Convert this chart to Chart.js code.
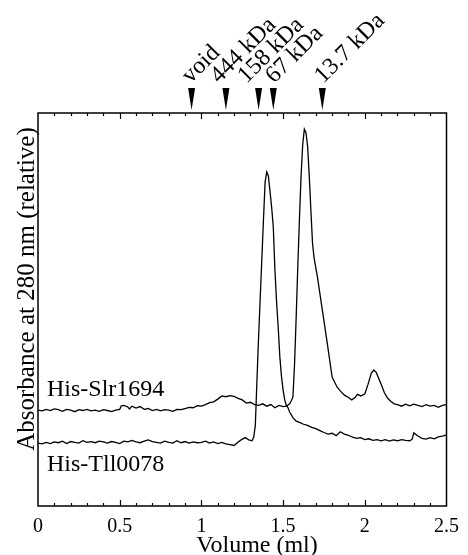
<!DOCTYPE html>
<html>
<head>
<meta charset="utf-8">
<script src="https://cdn.jsdelivr.net/npm/chart.js@4"></script>
<style>
  body { margin: 0; background: #fff; }
  canvas { display: block; }
</style>
</head>
<body>
<canvas id="grafico" width="468" height="555"></canvas>
<script>
// His-Slr1694 trace (volume in ml, relative absorbance)
const slrVol = [0, 0.025, 0.05, 0.075, 0.1, 0.125, 0.15, 0.175, 0.2, 0.225, 0.25, 0.275, 0.3, 0.325, 0.35, 0.375, 0.4, 0.425, 0.45, 0.475,
  0.5, 0.51, 0.525, 0.55, 0.56, 0.575, 0.6, 0.625, 0.65, 0.675, 0.7, 0.725, 0.75, 0.775, 0.8, 0.825, 0.85, 0.875, 0.9, 0.925,
  0.95, 0.975, 1.0, 1.025, 1.05, 1.075, 1.1, 1.125, 1.15, 1.175, 1.2, 1.225, 1.25, 1.275, 1.3, 1.325, 1.35, 1.375, 1.4, 1.425,
  1.45, 1.475, 1.5, 1.52, 1.54, 1.55, 1.56, 1.57, 1.58, 1.59, 1.6, 1.61, 1.62, 1.63, 1.64, 1.65, 1.66, 1.67, 1.68, 1.69,
  1.71, 1.74, 1.77, 1.8, 1.83, 1.85, 1.875, 1.9, 1.92, 1.94, 1.955, 1.975, 2.0, 2.02, 2.04, 2.055, 2.07, 2.1, 2.12, 2.14,
  2.16, 2.18, 2.2, 2.225, 2.25, 2.275, 2.3, 2.325, 2.35, 2.375, 2.4, 2.425, 2.45, 2.475, 2.5];
const slrAbs = [24.4, 24.2, 24.6, 24.3, 24.7, 24.5, 24.1, 24.6, 24.4, 24.0, 24.5, 24.3, 24.6, 24.2, 24.4, 24.1, 24.5, 24.3, 24.0, 24.4,
  24.6, 25.5, 25.6, 25.2, 24.7, 25.4, 24.9, 25.3, 24.6, 24.8, 24.3, 24.6, 24.2, 24.5, 24.4, 24.1, 24.6, 24.5, 24.8, 25.1,
  25.0, 25.5, 25.4, 25.8, 26.3, 26.5, 27.2, 28.0, 27.8, 28.1, 27.9, 27.4, 27.0, 26.2, 26.4, 25.8, 25.6, 26.0, 25.4, 25.8,
  25.0, 25.6, 25.3, 25.4, 26.0, 26.8, 27.7, 36, 48, 61, 73, 84, 92, 95.9, 95.0, 91.5, 84, 75.3, 66.9, 63,
  58.3, 49.9, 41.5, 32.8, 30.3, 29.3, 28.2, 27.6, 27.0, 27.6, 28.4, 28.0, 28.5, 31.0, 33.8, 34.6, 34.0, 31.0, 28.8, 27.4,
  26.6, 26.0, 25.8, 25.4, 25.9, 25.5, 25.9, 25.6, 25.3, 25.8, 25.4, 25.6, 25.1, 25.6, 25.8];

// His-Tll0078 trace
const tllVol = [0, 0.025, 0.05, 0.075, 0.1, 0.125, 0.15, 0.175, 0.2, 0.225, 0.25, 0.275, 0.3, 0.325, 0.35, 0.375, 0.4, 0.425, 0.45, 0.475,
  0.5, 0.525, 0.55, 0.575, 0.6, 0.625, 0.65, 0.675, 0.7, 0.725, 0.75, 0.775, 0.8, 0.825, 0.85, 0.875, 0.9, 0.925, 0.95, 0.975,
  1.0, 1.025, 1.05, 1.075, 1.1, 1.125, 1.15, 1.175, 1.2, 1.225, 1.25, 1.27, 1.29, 1.31, 1.32, 1.33, 1.34, 1.35, 1.36, 1.37,
  1.38, 1.39, 1.4, 1.41, 1.42, 1.43, 1.44, 1.45, 1.46, 1.47, 1.48, 1.49, 1.5, 1.51, 1.52, 1.53, 1.54, 1.56, 1.58, 1.6,
  1.625, 1.65, 1.675, 1.7, 1.725, 1.75, 1.775, 1.8, 1.825, 1.85, 1.875, 1.9, 1.925, 1.95, 1.975, 2.0, 2.025, 2.05, 2.075, 2.1,
  2.125, 2.15, 2.175, 2.2, 2.225, 2.25, 2.275, 2.29, 2.3, 2.325, 2.35, 2.375, 2.4, 2.425, 2.45, 2.475, 2.5];
const tllAbs = [16.0, 15.8, 16.2, 15.9, 16.3, 16.1, 16.5, 15.9, 16.4, 16.2, 16.0, 16.6, 16.2, 16.4, 16.1, 16.5, 16.3, 16.0, 16.4, 16.2,
  15.9, 16.5, 16.3, 16.7, 16.3, 16.1, 16.5, 16.8, 16.4, 16.2, 16.0, 16.5, 16.2, 16.0, 16.6, 16.1, 16.4, 16.0, 16.3, 16.1,
  16.2, 16.5, 16.0, 16.3, 15.9, 16.2, 15.8, 15.6, 15.4, 16.3, 17.0, 17.4, 16.8, 16.6, 17.5, 20.5, 32, 43, 53, 63,
  73, 82.5, 85.0, 84.0, 80, 76, 71, 60, 52, 45.5, 38, 33, 29.5, 27.0, 25.6, 25.0, 23.9, 22.5, 21.6, 21.3,
  20.8, 20.5, 20.0, 19.7, 19.2, 18.7, 18.3, 18.5, 17.9, 18.9, 18.3, 18.0, 17.5, 17.2, 17.4, 16.9, 17.1, 16.7, 16.9, 16.6,
  16.9, 16.5, 16.8, 16.6, 16.9, 16.7, 16.6, 17.0, 18.6, 17.8, 17.2, 17.0, 17.4, 17.1, 17.6, 17.8, 18.1];

// calibration markers on top
const markerLabels = ["void", "444 kDa", "158 kDa", "67 kDa", "13.7 kDa"];
const markerVolumes = [0.94, 1.15, 1.35, 1.44, 1.74];

const seriesNames = ["His-Slr1694", "His-Tll0078"];
const xTickValues = [0, 0.5, 1, 1.5, 2, 2.5];

const serif = '"Liberation Serif", "Times New Roman", serif';

const pontos = (xs, ys) => xs.map((x, i) => ({ x: x, y: ys[i] }));

// label nudges so the slanted marker texts don't collide (pixels)
const desvioRotulo = [-1, -7, -12, 1, 1];

const decoracao = {
    id: "decoracao",
    afterDraw(chart) {
        const ctx = chart.ctx;
        const area = chart.chartArea;
        const xs = chart.scales.x;
        ctx.save();
        ctx.strokeStyle = "#000";
        ctx.fillStyle = "#000";
        ctx.lineWidth = 1.5;
        ctx.strokeRect(area.left, area.top, area.right - area.left, area.bottom - area.top);

        // inward ticks on top and bottom
        ctx.lineWidth = 1.2;
        for (let i = 1; i < 25; i++) {
            const v = i / 10;
            const px = Math.round(xs.getPixelForValue(v)) + 0.5;
            const len = i % 5 === 0 ? 6 : 3;
            ctx.beginPath();
            ctx.moveTo(px, area.bottom);
            ctx.lineTo(px, area.bottom - len);
            ctx.moveTo(px, area.top);
            ctx.lineTo(px, area.top + len);
            ctx.stroke();
        }

        // marker arrows and rotated labels
        ctx.font = "24px " + serif;
        ctx.textAlign = "left";
        ctx.textBaseline = "alphabetic";
        markerVolumes.forEach((v, i) => {
            const px = xs.getPixelForValue(v);
            ctx.beginPath();
            ctx.moveTo(px - 3.5, 88);
            ctx.lineTo(px + 3.5, 88);
            ctx.lineTo(px, 110);
            ctx.closePath();
            ctx.fill();
            ctx.save();
            ctx.translate(px + desvioRotulo[i], 84);
            ctx.rotate(-Math.PI / 4);
            ctx.fillText(markerLabels[i], 0, 0);
            ctx.restore();
        });

        // series labels
        ctx.font = "24px " + serif;
        ctx.fillText(seriesNames[0], 47, 396);
        ctx.fillText(seriesNames[1], 47, 471);

        // axis titles
        ctx.textAlign = "center";
        ctx.fillText("Volume (ml)", 257, 552);
        ctx.save();
        ctx.translate(34, 289);
        ctx.rotate(-Math.PI / 2);
        ctx.font = "25px " + serif;
        ctx.fillText("Absorbance at 280 nm (relative)", 0, 0);
        ctx.restore();
        ctx.restore();
    }
};

const ctx = document.getElementById("grafico").getContext("2d");
const grafico = new Chart(ctx, {
    type: "line",
    data: {
        datasets: [{
            label: seriesNames[0],
            data: pontos(slrVol, slrAbs),
            borderColor: "#000",
            borderWidth: 1.3,
            pointRadius: 0,
            tension: 0
        }, {
            label: seriesNames[1],
            data: pontos(tllVol, tllAbs),
            borderColor: "#000",
            borderWidth: 1.3,
            pointRadius: 0,
            tension: 0
        }]
    },
    options: {
        responsive: false,
        animation: false,
        devicePixelRatio: 1,
        layout: { padding: { top: 113, right: 14, left: 38, bottom: 0 } },
        plugins: { legend: { display: false }, tooltip: { enabled: false } },
        scales: {
            x: {
                type: "linear",
                min: 0,
                max: 2.5,
                grid: { display: false, drawTicks: false },
                border: { display: false },
                afterFit: (scale) => { scale.height = 49; },
                afterBuildTicks: (scale) => { scale.ticks = xTickValues.map(v => ({ value: v })); },
                ticks: {
                    color: "#000",
                    padding: 9,
                    maxRotation: 0,
                    autoSkip: false,
                    font: { family: serif, size: 20 },
                    callback: (value) => String(value)
                }
            },
            y: {
                display: false,
                min: 0,
                max: 100
            }
        }
    },
    plugins: [decoracao]
});
</script>
</body>
</html>
